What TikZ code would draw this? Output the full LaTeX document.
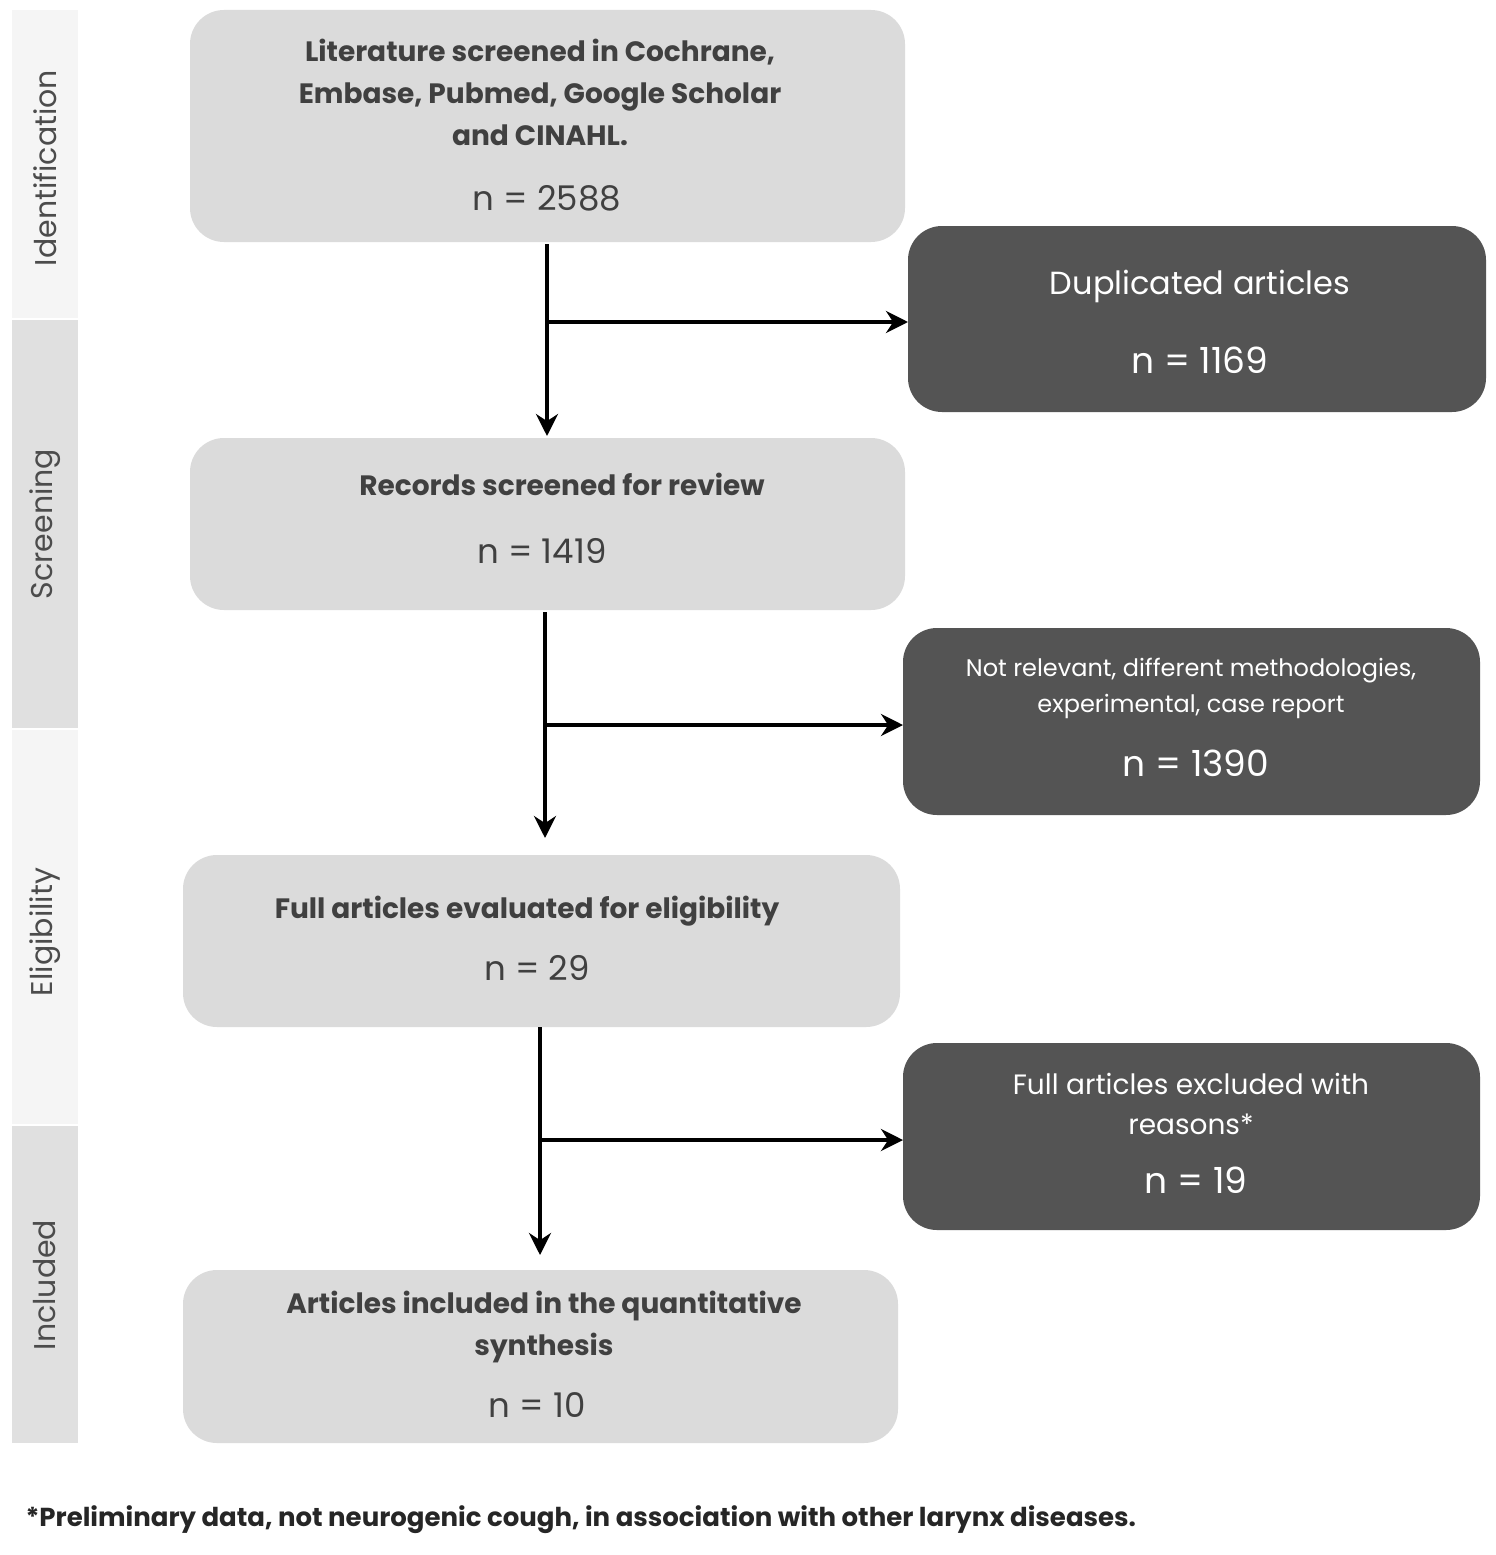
\documentclass[tikz,border=0pt]{standalone}
\usetikzlibrary{arrows.meta}
\usepackage{fontspec}
\setmainfont{Poppins}
\begin{document}
\begin{tikzpicture}[x=1pt,y=-1pt,
 lbox/.style={draw=none,fill=black!14,rounded corners=34pt},
 dbox/.style={draw=none,fill=black!67,rounded corners=34pt},
 side/.style={fill=#1,draw=none},
 sidetxt/.style={rotate=90,text=black!70,font=\fontsize{30}{34}\selectfont},
 arr/.style={line width=4pt,-{Stealth[length=22pt,width=22pt]}},
 ln/.style={line width=4pt}]
\useasboundingbox (0,0) rectangle (1496,1555);
\fill[white] (0,0) rectangle (1496,1555);
\fill[side=black!4] (12,10) rectangle (78,318);
\fill[side=black!12] (12,320) rectangle (78,728);
\fill[side=black!4] (12,730) rectangle (78,1124);
\fill[side=black!12] (12,1126) rectangle (78,1443);
\node[sidetxt] (s1) at (45,168) {Identification};
\node[sidetxt] (s2) at (45,524) {Screening};
\node[sidetxt] (s3) at (45,932) {Eligibility};
\node[sidetxt] (s4) at (45,1285) {Included};
\fill[lbox] (190,10) rectangle (905,242);
\fill[lbox] (190,438) rectangle (905,610);
\fill[lbox] (183,855) rectangle (900,1027);
\fill[lbox] (183,1270) rectangle (898,1443);
\fill[dbox] (908,226) rectangle (1486,412);
\fill[dbox] (903,628) rectangle (1480,815);
\fill[dbox] (903,1043) rectangle (1480,1230);
\begin{scope}[every node/.style={align=center,text=black!75}]
\node[font=\fontsize{28}{42}\selectfont\bfseries] (t1) at (540,92) {Literature screened in Cochrane,\\Embase, Pubmed, Google Scholar\\and CINAHL.};
\node[font=\fontsize{34}{40}\selectfont] (n1) at (547,198) {n = 2588};
\node[font=\fontsize{28}{40}\selectfont\bfseries] (t2) at (562,484) {Records screened for review};
\node[font=\fontsize{34}{40}\selectfont] (n2) at (542,551) {n = 1419};
\node[font=\fontsize{28}{40}\selectfont\bfseries] (t3) at (527,911) {Full articles evaluated for eligibility};
\node[font=\fontsize{34}{40}\selectfont] (n3) at (537,968) {n = 29};
\node[font=\fontsize{28}{42}\selectfont\bfseries] (t4) at (544,1327) {Articles included in the quantitative\\synthesis};
\node[font=\fontsize{34}{40}\selectfont] (n4) at (537,1405) {n = 10};
\end{scope}
\begin{scope}[every node/.style={align=center,text=white}]
\node[font=\fontsize{32}{40}\selectfont] (d1t) at (1200,286) {Duplicated articles};
\node[font=\fontsize{36}{40}\selectfont] (d1n) at (1200,360) {n = 1169};
\node[font=\fontsize{24}{36}\selectfont] (d2t) at (1191,688) {Not relevant, different methodologies,\\experimental, case report};
\node[font=\fontsize{36}{40}\selectfont] (d2n) at (1196,763) {n = 1390};
\node[font=\fontsize{28}{40}\selectfont] (d3t) at (1191,1104) {Full articles excluded with\\reasons*};
\node[font=\fontsize{36}{40}\selectfont] (d3n) at (1196,1180) {n = 19};
\end{scope}
\coordinate (a1s) at (547,244); \coordinate (a1e) at (547,436); \coordinate (h1) at (547,322); \coordinate (h1e) at (908,322);
\coordinate (a2s) at (545,612); \coordinate (a2e) at (545,838); \coordinate (h2) at (545,725); \coordinate (h2e) at (903,725);
\coordinate (a3s) at (540,1027); \coordinate (a3e) at (540,1255); \coordinate (h3) at (540,1140); \coordinate (h3e) at (903,1140);
\draw[arr] (a1s) -- (a1e); \draw[arr] (h1) -- (h1e);
\draw[arr] (a2s) -- (a2e); \draw[arr] (h2) -- (h2e);
\draw[arr] (a3s) -- (a3e); \draw[arr] (h3) -- (h3e);
\node[anchor=west,font=\fontsize{26}{30}\selectfont\bfseries,text=black!85] (fn) at (22,1520) {*Preliminary data, not neurogenic cough, in association with other larynx diseases.};
\end{tikzpicture}
\end{document}
